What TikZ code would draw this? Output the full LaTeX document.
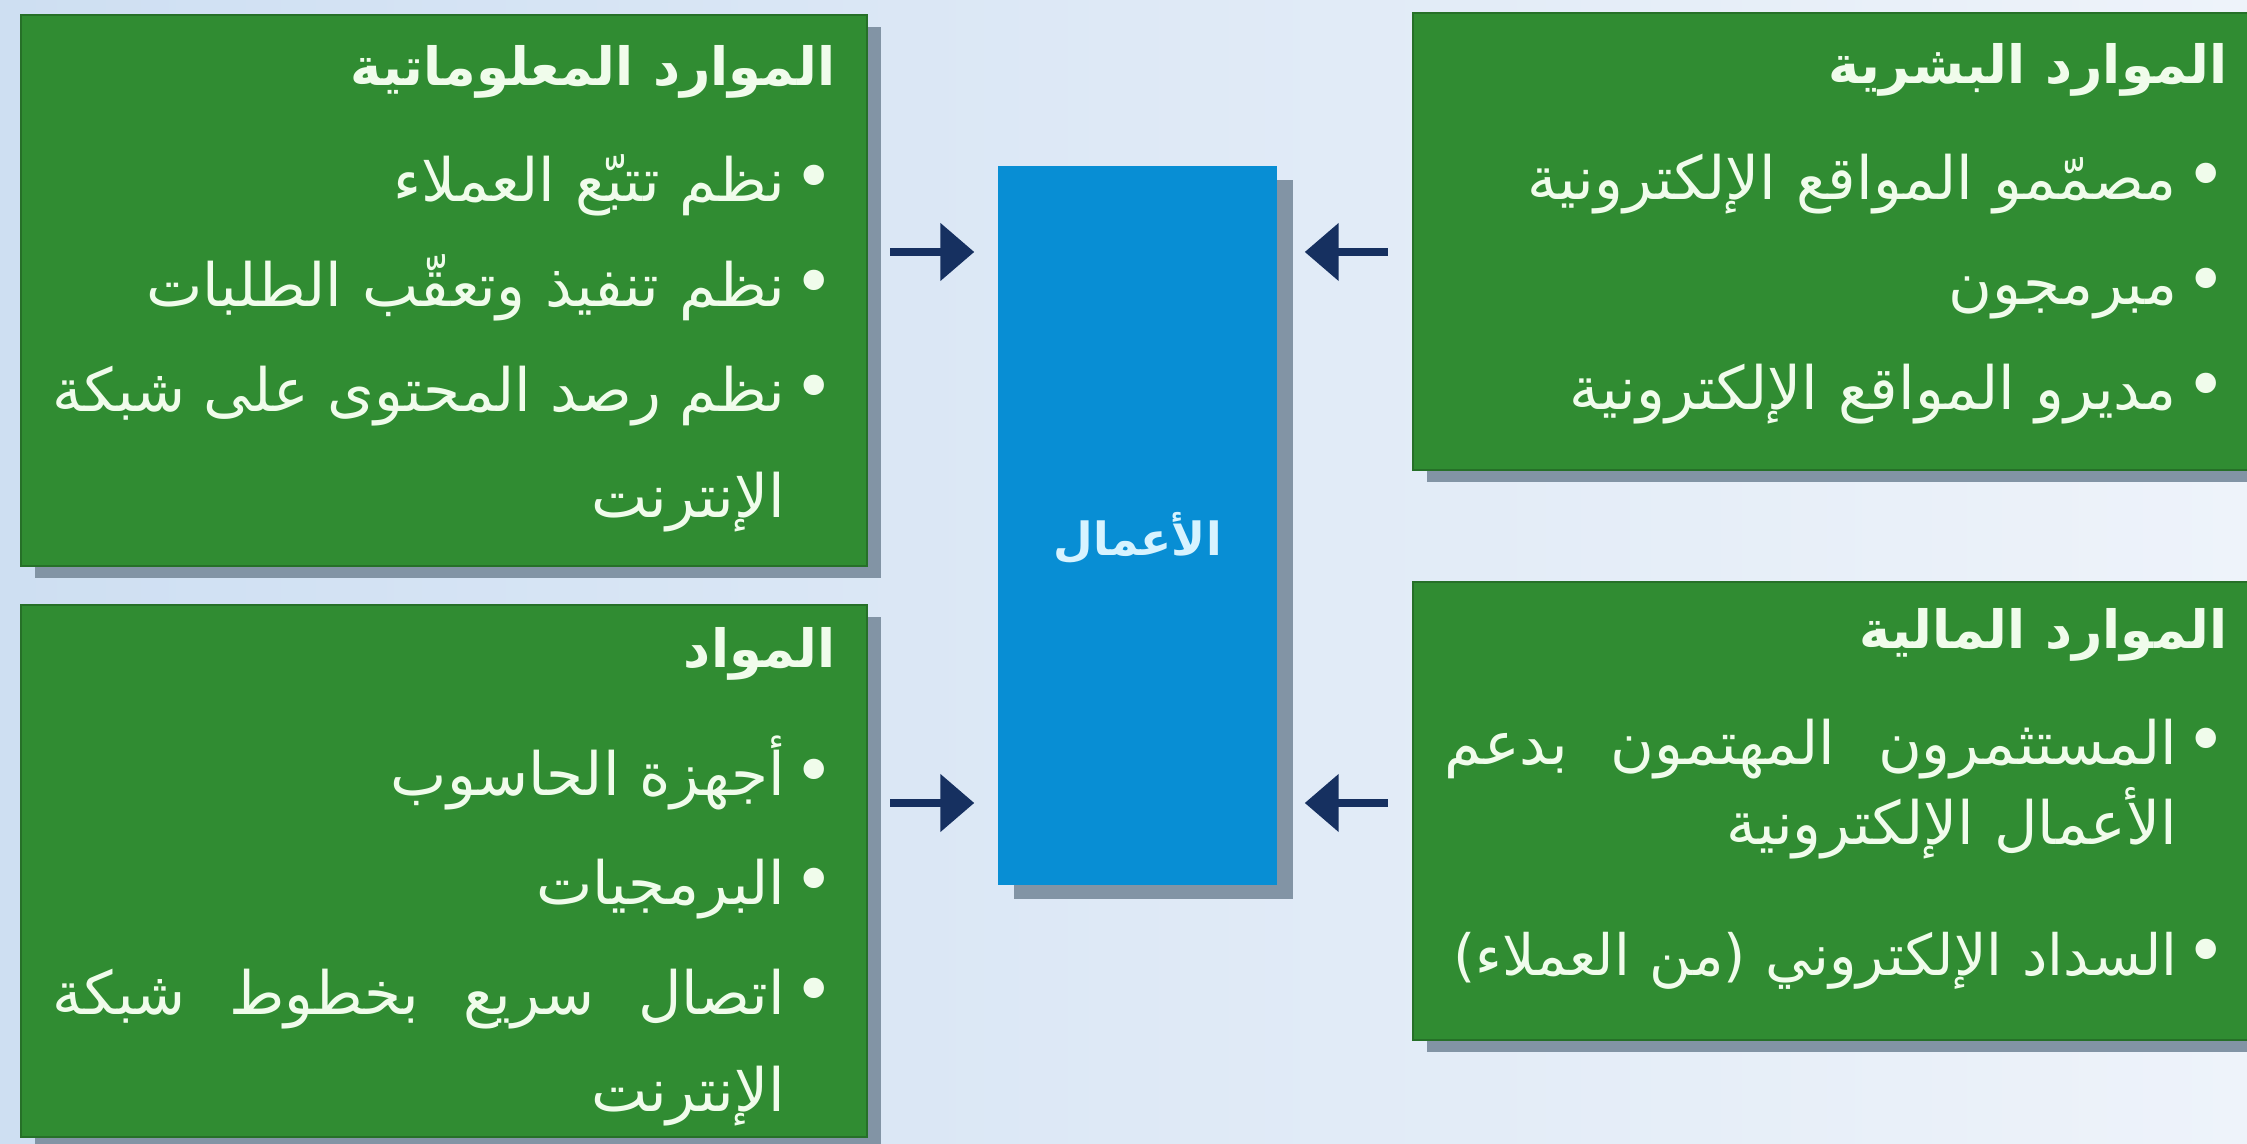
\documentclass[tikz,border=0pt]{standalone}
\usepackage{fontspec}
\usepackage{tikz}
\usetikzlibrary{arrows.meta,positioning,shadows}
\TeXXeTstate=1
\newfontfamily\arabicfont[Script=Arabic]{DejaVu Sans}
\definecolor{leafgreen}{RGB}{48,140,50}
\definecolor{bizblue}{RGB}{8,142,212}
\definecolor{navyarrow}{RGB}{22,48,96}
\definecolor{paleblue}{RGB}{206,223,242}
\definecolor{paletint}{RGB}{238,243,250}
\definecolor{shadowgray}{RGB}{130,148,165}
\definecolor{textwhite}{RGB}{240,252,235}
\definecolor{bizwhite}{RGB}{215,243,255}
\newlength{\rowwidth}\setlength{\rowwidth}{7.83cm}
\newcommand{\arline}[1]{\mbox{\beginR#1\endR}}
\newcommand{\bigdot}{{\fontsize{20}{20}\selectfont•}}
\newcommand{\bul}{\bigdot\hspace{.15em}}
% words of a stretched line are given left to right, as they are seen
\newcommand{\spreadline}[1]{\leavevmode\hbox to\rowwidth{#1\hspace{.15em}\bigdot}}
\newcommand{\hang}[1]{\beginR#1\endR\hphantom{\bul}}
\newcommand{\headline}[1]{{\bfseries\fontsize{15}{30}\selectfont\arline{#1}}}

\begin{document}
\begin{tikzpicture}[>=Stealth]
\tikzstyle{resbox}=[draw=leafgreen!80!black,line width=.6pt,fill=leafgreen,minimum width=8.46cm,drop shadow={shadow xshift=1.4mm,shadow yshift=-1.2mm,fill=shadowgray,opacity=1}]
\tikzstyle{restext}=[text=textwhite,font=\arabicfont\fontsize{17}{30}\selectfont,align=right,text width=\rowwidth,inner sep=0pt]
\tikzstyle{bizbox}=[fill=bizblue,minimum width=2.79cm,minimum height=7.19cm,text=bizwhite,font=\arabicfont\bfseries\fontsize{13}{16}\selectfont,drop shadow={shadow xshift=1.6mm,shadow yshift=-1.4mm,fill=shadowgray,opacity=1}]
\tikzstyle{flowarrow}=[-{Triangle[length=3.4mm,width=5.6mm]},line width=2.4pt,navyarrow]

\useasboundingbox (0,0) rectangle (22.47,11.44);
\clip (0,0) rectangle (22.47,11.44);
\shade[left color=paleblue,right color=paletint] (0,0) rectangle (22.47,11.44);

% the business in the middle
\node[bizbox] (biz) at (11.375,6.185) {\raisebox{-3mm}[0pt][0pt]{\arline{الأعمال}}};

% the four kinds of resources
\node[resbox,minimum height=5.51cm] (info) at (4.44,8.535) {};
\node[resbox,minimum height=5.32cm] (mats) at (4.44,2.73) {};
\node[resbox,minimum height=4.57cm] (hr) at (18.36,9.025) {};
\node[resbox,minimum height=4.58cm] (fin) at (18.36,3.33) {};

\node[restext,anchor=north east] (infotext) at ([xshift=-3.2mm,yshift=-3.1mm]info.north east) {\headline{الموارد المعلوماتية}\\[1mm]
\arline{\bul نظم تتبّع العملاء}\\
\arline{\bul نظم تنفيذ وتعقّب الطلبات}\\
\spreadline{شبكة\hfill على\hfill المحتوى\hfill رصد\hfill نظم}\\
\hang{الإنترنت}};
\node[restext,anchor=north east] (matstext) at ([xshift=-3.2mm,yshift=-2.3mm]mats.north east) {\headline{المواد}\\[2.2mm]
\arline{\bul أجهزة الحاسوب}\\[.4mm]
\arline{\bul البرمجيات}\\[.4mm]
\spreadline{شبكة\hfill بخطوط\hfill سريع\hfill اتصال}\\[-.8mm]
\hang{الإنترنت}};
\node[restext,anchor=north east] (hrtext) at ([xshift=-3.2mm,yshift=-3.1mm]hr.north east) {\headline{الموارد البشرية}\\[1mm]
\arline{\bul مصمّمو المواقع الإلكترونية}\\
\arline{\bul مبرمجون}\\
\arline{\bul مديرو المواقع الإلكترونية}};
\node[restext,anchor=north east] (fintext) at ([xshift=-3.2mm,yshift=-2.7mm]fin.north east) {\headline{الموارد المالية}\\[1mm]
\spreadline{بدعم\hfill المهتمون\hfill المستثمرون}\\[-2.5mm]
\hang{الأعمال الإلكترونية}\\[2.5mm]
{\fontsize{16.2}{30}\selectfont\arline{\bul السداد الإلكتروني (من العملاء)}}};

\draw[flowarrow,shorten <=2.2mm,shorten >=2.3mm] ([yshift=3.85mm]info.east) -- ([yshift=3.85mm]info.east -| biz.west);
\draw[flowarrow,shorten <=2.2mm,shorten >=2.3mm] ([yshift=6.8mm]mats.east) -- ([yshift=6.8mm]mats.east -| biz.west);
\draw[flowarrow,shorten <=2.4mm,shorten >=2.7mm] ([yshift=-1.05mm]hr.west) -- ([yshift=-1.05mm]hr.west -| biz.east);
\draw[flowarrow,shorten <=2.4mm,shorten >=2.7mm] ([yshift=.8mm]fin.west) -- ([yshift=.8mm]fin.west -| biz.east);
\end{tikzpicture}
\end{document}
